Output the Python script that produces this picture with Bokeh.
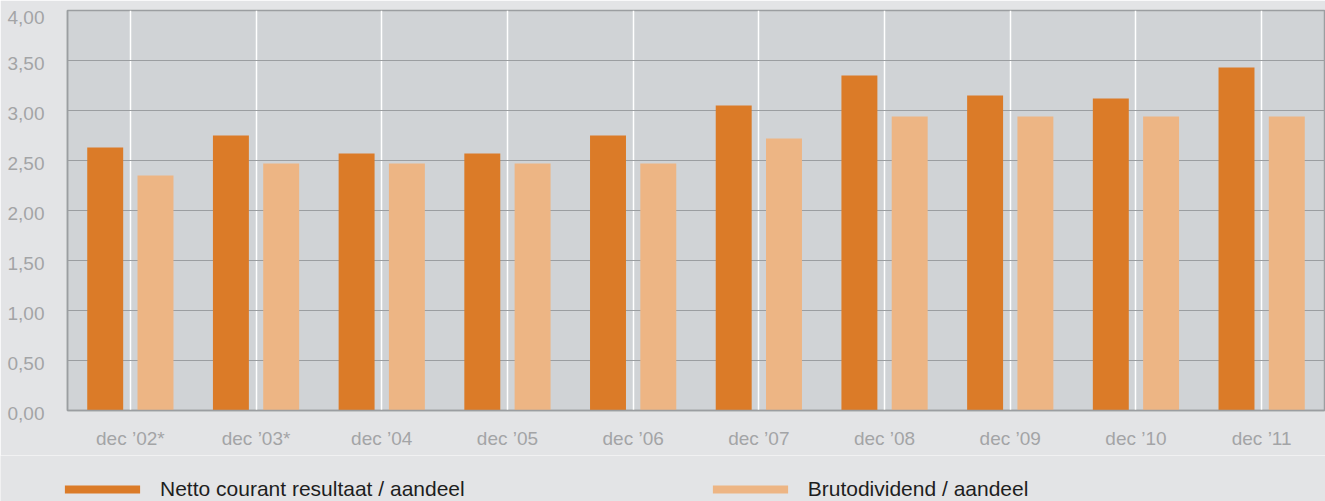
from bokeh.plotting import figure
from bokeh.layouts import column
from bokeh.models import (FactorRange, Range1d, FixedTicker, CustomJSTickFormatter,
                          Legend, LegendItem)
from bokeh.transform import dodge
from bokeh.embed import file_html
from bokeh.resources import INLINE

categories = ["dec \u201902*", "dec \u201903*", "dec \u201904", "dec \u201905", "dec \u201906",
              "dec \u201907", "dec \u201908", "dec \u201909", "dec \u201910", "dec \u201911"]
netto = [2.63, 2.75, 2.57, 2.57, 2.75, 3.05, 3.35, 3.15, 3.12, 3.43]
bruto = [2.35, 2.47, 2.47, 2.47, 2.47, 2.72, 2.94, 2.94, 2.94, 2.94]
y_ticks = [0, 0.5, 1.0, 1.5, 2.0, 2.5, 3.0, 3.5, 4.0]
series_names = ["Netto courant resultaat / aandeel", "Brutodividend / aandeel"]

ORANGE = "#db7b28"
LIGHT = "#edb584"
BG = "#e3e4e6"
FONT = "Liberation Sans"

p = figure(width=1325, height=455, x_range=FactorRange(*categories), y_range=Range1d(0, 4),
           output_backend="svg", toolbar_location=None,
           min_border_left=67, min_border_top=10, min_border_right=1, min_border_bottom=45,
           background_fill_color="#d0d3d6", border_fill_color=BG,
           outline_line_color="#9b9ea1", outline_line_width=1.5)
p.frame_align = False

src = dict(cat=categories, netto=netto, bruto=bruto)
p.vbar(x=dodge("cat", -0.2, range=p.x_range), top="netto", width=0.286, source=src,
       fill_color=ORANGE, line_color=None)
p.vbar(x=dodge("cat", 0.2, range=p.x_range), top="bruto", width=0.286, source=src,
       fill_color=LIGHT, line_color=None)

# grids
p.ygrid.ticker = FixedTicker(ticks=y_ticks)
p.ygrid.grid_line_color = "#9b9ea1"
p.ygrid.grid_line_width = 1.2
p.xgrid.grid_line_color = "white"
p.xgrid.grid_line_width = 1.5

# y axis (labels sit slightly below their gridline, as in the original)
p.yaxis.ticker = FixedTicker(ticks=y_ticks)
p.yaxis.formatter = CustomJSTickFormatter(code="return '\\n' + tick.toFixed(2).replace('.', ',');")
p.yaxis.major_tick_line_color = None
p.yaxis.minor_tick_line_color = None
p.yaxis.major_label_standoff = 17
p.yaxis.major_label_text_font = FONT
p.yaxis.major_label_text_font_size = "19px"
p.yaxis.major_label_text_line_height = 0.3
p.yaxis.major_label_text_color = "#a3a4a6"
p.yaxis.axis_line_color = "#9b9ea1"
p.yaxis.axis_line_width = 1.5

# x axis
p.xaxis.major_tick_line_color = None
p.xaxis.major_label_standoff = 11
p.xaxis.major_label_text_font = FONT
p.xaxis.major_label_text_font_size = "19px"
p.xaxis.major_label_text_color = "#a3a4a6"
p.xaxis.axis_line_color = "#9b9ea1"
p.xaxis.axis_line_width = 1.5

# legend strip below the chart (same data, drawn off-range so only the legend shows)
q = figure(width=1325, height=46, x_range=FactorRange(*categories), y_range=Range1d(10, 11),
           output_backend="svg", toolbar_location=None, min_border=0,
           background_fill_color=BG, border_fill_color=BG, outline_line_color=None)
q.frame_align = False
q.axis.visible = False
q.grid.visible = False
k1 = q.vbar(x="cat", top="netto", width=0.286, source=src, fill_color=ORANGE, line_color=None)
k2 = q.vbar(x="cat", top="bruto", width=0.286, source=src, fill_color=LIGHT, line_color=None)

legend = Legend(items=[LegendItem(label=series_names[0], renderers=[k1]),
                       LegendItem(label=series_names[1], renderers=[k2])],
                orientation="horizontal", location=(55, 0),
                glyph_width=94, glyph_height=10, label_standoff=11, label_height=10,
                spacing=238, padding=0, margin=0,
                label_text_font=FONT, label_text_font_size="21px", label_text_color="#1e1e1e",
                label_text_line_height=1.0,
                background_fill_alpha=0, border_line_color=None)
q.add_layout(legend, "center")

layout = column(p, q, spacing=0)
open("out.html", "w").write(file_html(layout, INLINE))
